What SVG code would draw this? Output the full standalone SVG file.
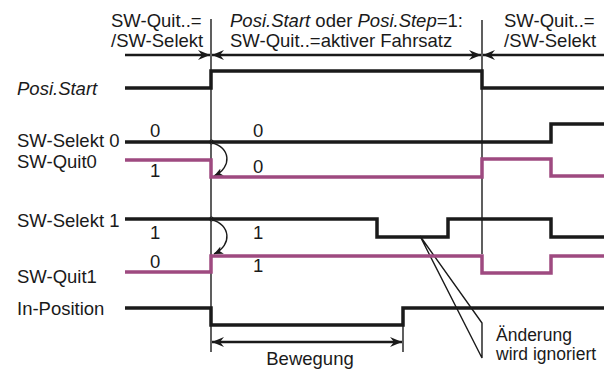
<svg xmlns="http://www.w3.org/2000/svg" width="604" height="369" viewBox="0 0 604 369">
<style>
text{font-family:"Liberation Sans",Arial,sans-serif;font-size:18.5px;fill:#1a1a1a}
.it{font-style:italic}
.sm{font-size:17.5px}
.sig{fill:none;stroke:#1a1a1a;stroke-width:3.5;stroke-linejoin:miter}
.mag{fill:none;stroke:#9e4a80;stroke-width:3.5;stroke-linejoin:miter}
.thin{fill:none;stroke:#1a1a1a;stroke-width:1.4}
.dim{fill:none;stroke:#1a1a1a;stroke-width:2.6}
</style>
<defs>
<marker id="ah" viewBox="-12 -6 13 12" refX="0" refY="0" markerWidth="13" markerHeight="12" markerUnits="userSpaceOnUse" orient="auto-start-reverse">
<path d="M0,0 L-12,-5 L-8,0 L-12,5 Z" fill="#1a1a1a"/>
</marker>
<marker id="sm" viewBox="-9 -5 10 10" refX="0" refY="0" markerWidth="10" markerHeight="10" markerUnits="userSpaceOnUse" orient="auto">
<path d="M0,0 L-9,-4 L-6.5,0 L-9,4 Z" fill="#1a1a1a"/>
</marker>
</defs>
<g id="header">
<text x="111" y="27">SW-Quit..=</text>
<text x="111" y="47">/SW-Selekt</text>
<text x="230" y="27"><tspan class="it">Posi.Start</tspan> oder <tspan class="it">Posi.Step</tspan>=1:</text>
<text x="230" y="47">SW-Quit..=aktiver Fahrsatz</text>
<text x="504" y="27">SW-Quit..=</text>
<text x="504" y="47">/SW-Selekt</text>
</g>
<g id="connectors">
<line class="thin" x1="211" y1="19" x2="211" y2="352"/>
<line class="thin" x1="482" y1="20" x2="482" y2="254"/>
<line class="thin" x1="403" y1="310" x2="403" y2="352"/>
<line class="dim" x1="125" y1="55" x2="210" y2="55" marker-end="url(#ah)"/>
<line class="dim" x1="212" y1="55" x2="481" y2="55" marker-start="url(#ah)" marker-end="url(#ah)"/>
<line class="dim" x1="483" y1="55" x2="604" y2="55" marker-start="url(#ah)"/>
<line class="dim" x1="212" y1="342" x2="402" y2="342" marker-start="url(#ah)" marker-end="url(#ah)"/>
<path class="thin" d="M212,143 C230,147 233,167 214,176" marker-end="url(#sm)"/>
<path class="thin" d="M212,220 C230,224 233,245 214,254" marker-end="url(#sm)"/>
<circle cx="211.5" cy="142" r="2" fill="#fff" stroke="#1a1a1a" stroke-width="1"/>
<circle cx="211.5" cy="219" r="2" fill="#fff" stroke="#1a1a1a" stroke-width="1"/>
<path class="thin" d="M420,236 L482,323 L482,358 Z"/>
</g>
<g id="posi-start">
<text class="it" x="17" y="95">Posi.Start</text>
<path class="sig" d="M125,88 H211 V71 H482 V88 H604"/>
</g>
<g id="sw-selekt0">
<text x="17" y="147">SW-Selekt 0</text>
<path class="sig" d="M125,142 H551 V124 H604"/>
<text x="150" y="137">0</text>
<text x="253" y="137">0</text>
</g>
<g id="sw-quit0">
<text x="17" y="168">SW-Quit0</text>
<path class="mag" d="M125,160 H211 V177 H482 V159 H551 V176 H604"/>
<text x="150" y="177">1</text>
<text x="253" y="173">0</text>
</g>
<g id="sw-selekt1">
<text x="17" y="227">SW-Selekt 1</text>
<path class="sig" d="M125,219 H377 V237 H448 V219 H551 V237 H604"/>
<text x="150" y="239">1</text>
<text x="253" y="239">1</text>
</g>
<g id="sw-quit1">
<text x="17" y="283">SW-Quit1</text>
<path class="mag" d="M125,272 H211 V256 H482 V273 H551 V256 H604"/>
<text x="150" y="268">0</text>
<text x="253" y="272">1</text>
</g>
<g id="in-position">
<text x="17" y="315">In-Position</text>
<path class="sig" d="M125,308 H211 V325 H403 V308 H604"/>
</g>
<g id="labels">
<text x="310" y="365" text-anchor="middle">Bewegung</text>
<text class="sm" x="496" y="341">Änderung</text>
<text class="sm" x="496" y="360">wird ignoriert</text>
</g>
</svg>
